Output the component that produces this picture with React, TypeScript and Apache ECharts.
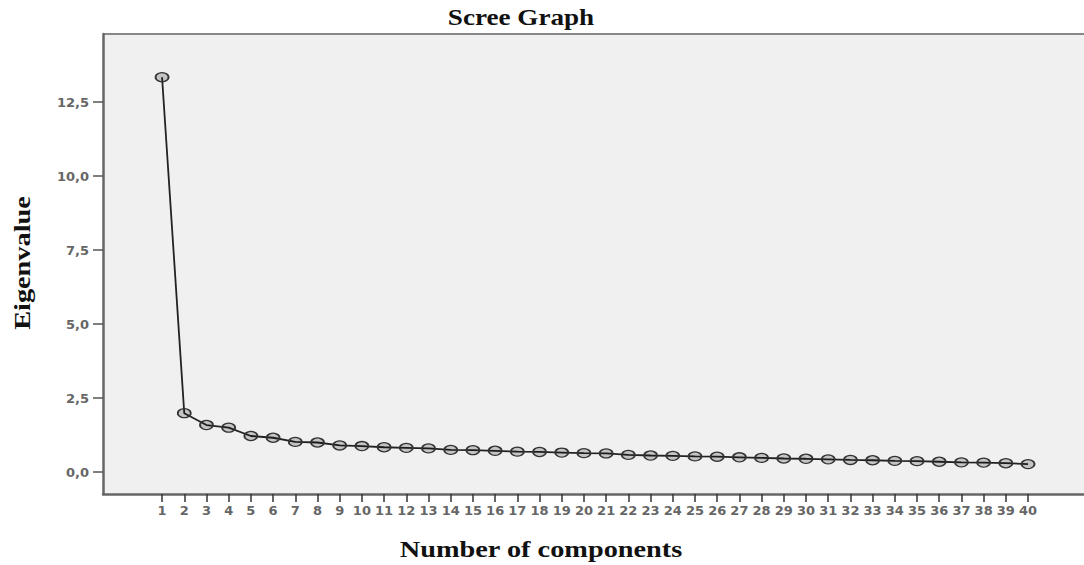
import React, { useEffect, useRef } from "react";
import * as echarts from "echarts";

const components: number[] = Array.from({ length: 40 }, (_, i) => i + 1);
const eigenvalues: number[] = [
  13.34, 1.99, 1.59, 1.5, 1.22, 1.16, 1.02, 1.0, 0.9, 0.88,
  0.84, 0.82, 0.8, 0.75, 0.74, 0.72, 0.69, 0.68, 0.66, 0.64,
  0.63, 0.58, 0.56, 0.55, 0.53, 0.52, 0.5, 0.48, 0.46, 0.45,
  0.43, 0.41, 0.4, 0.38, 0.37, 0.35, 0.33, 0.32, 0.3, 0.27,
];
const yTicks: number[] = [0, 2.5, 5, 7.5, 10, 12.5];
const titleText = "Scree Graph";
const xName = "Number of components";
const yName = "Eigenvalue";

export default function App() {
  const ref = useRef<HTMLDivElement>(null);
  useEffect(() => {
    if (!ref.current) return;
    const chart = echarts.init(ref.current, null, { renderer: "svg" });
    const serifBold = {
      fontFamily: "Liberation Serif",
      fontWeight: "bold",
      fill: "#111",
      align: "center",
      verticalAlign: "middle",
    };
    chart.setOption({
      animation: false,
      backgroundColor: "#ffffff",
      grid: {
        left: 103,
        top: 34,
        right: 0,
        bottom: 71,
        show: true,
        backgroundColor: "#f0f0f0",
        borderWidth: 0,
      },
      xAxis: {
        type: "value",
        min: -1.66,
        max: 42.52,
        axisLine: { show: true, onZero: false, lineStyle: { color: "#666", width: 2.5 } },
        axisTick: {
          show: true,
          customValues: components,
          length: 8,
          lineStyle: { color: "#333", width: 1.5 },
        },
        axisLabel: {
          customValues: components,
          color: "#666",
          fontFamily: "DejaVu Sans",
          fontWeight: "bold",
          fontSize: 13,
          margin: 10,
          formatter: (v: number) => String(v),
        },
        splitLine: { show: false },
      },
      yAxis: {
        type: "value",
        min: -0.74,
        max: 14.8,
        axisLine: { show: true, onZero: false, lineStyle: { color: "#666", width: 2.5 } },
        axisTick: {
          show: true,
          customValues: yTicks,
          length: 10,
          lineStyle: { color: "#555", width: 1.5 },
        },
        axisLabel: {
          customValues: yTicks,
          color: "#666",
          fontFamily: "DejaVu Sans",
          fontWeight: "bold",
          fontSize: 13,
          margin: 14,
          formatter: (v: number) => v.toFixed(1).replace(".", ","),
        },
        splitLine: { show: false },
      },
      graphic: [
        {
          type: "line",
          shape: { x1: 103, y1: 34, x2: 1084, y2: 34 },
          style: { stroke: "#888", lineWidth: 2 },
        },
        {
          type: "text",
          x: 521,
          y: 17,
          scaleX: 1.18,
          style: { ...serifBold, text: titleText, fontSize: 23 },
        },
        {
          type: "text",
          x: 541,
          y: 549,
          scaleX: 1.18,
          style: { ...serifBold, text: xName, fontSize: 24 },
        },
        {
          type: "text",
          x: 22,
          y: 263,
          rotation: Math.PI / 2,
          scaleX: 1.18,
          style: { ...serifBold, text: yName, fontSize: 24 },
        },
      ],
      series: [
        {
          type: "line",
          data: components.map((c, i) => [c, eigenvalues[i]]),
          symbol: "circle",
          symbolSize: [13, 9],
          showAllSymbol: true,
          lineStyle: { color: "#222", width: 1.8 },
          itemStyle: { color: "rgba(0,0,0,0.18)", borderColor: "#333", borderWidth: 1.5 },
        },
      ],
    });
    return () => chart.dispose();
  }, []);
  return (
    <div
      ref={ref}
      style={{ position: "fixed", left: 0, top: 0, width: 1084, height: 565 }}
    />
  );
}
